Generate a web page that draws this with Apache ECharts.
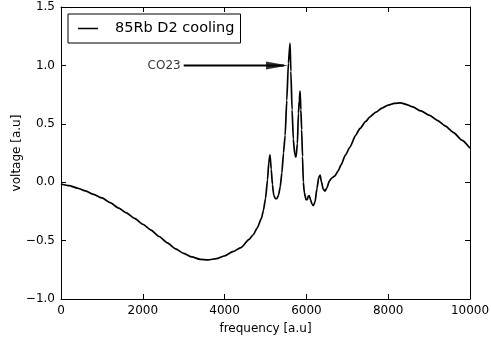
<!DOCTYPE html>
<html>
<head>
<meta charset="utf-8">
<script src="https://cdn.jsdelivr.net/npm/echarts@6/dist/echarts.min.js"></script>
<style>html,body{margin:0;padding:0;background:#fff}#c{width:491px;height:344px}</style>
</head>
<body>
<div id="c"></div>
<script>
var seriesName = '85Rb D2 cooling';
var freq = [0,200,400,600,800,1000,1200,1400,1600,1800,2000,2200,2400,2600,2800,3000,3200,3400,3600,3800,4000,4200,4400,4600,4700,4800,4900,4950,5000,5050,5080,5110,5140,5170,5200,5240,5280,5320,5360,5400,5440,5480,5520,5560,5600,5620,5650,5680,5715,5745,5780,5805,5827,5845,5865,5884,5905,5925,5950,5990,6020,6045,6070,6100,6140,6170,6210,6260,6300,6335,6370,6410,6455,6500,6560,6620,6700,6780,6850,6950,7066,7200,7311,7450,7555,7700,7850,8000,8150,8300,8450,8600,8800,9000,9200,9400,9600,9800,10000];
var voltage = [-0.015,-0.03,-0.05,-0.075,-0.105,-0.135,-0.175,-0.22,-0.262,-0.31,-0.36,-0.41,-0.465,-0.52,-0.57,-0.61,-0.64,-0.66,-0.665,-0.655,-0.63,-0.595,-0.56,-0.49,-0.45,-0.39,-0.31,-0.24,-0.14,0.02,0.17,0.235,0.11,-0.02,-0.11,-0.14,-0.14,-0.11,-0.04,0.08,0.25,0.40,0.70,1.02,1.19,0.95,0.62,0.37,0.24,0.215,0.33,0.59,0.70,0.78,0.62,0.45,0.22,0.0,-0.09,-0.15,-0.15,-0.12,-0.115,-0.15,-0.19,-0.20,-0.17,-0.05,0.04,0.06,0.0,-0.06,-0.075,-0.05,0.01,0.035,0.055,0.10,0.15,0.23,0.30,0.40,0.46,0.52,0.56,0.60,0.635,0.66,0.675,0.68,0.665,0.645,0.61,0.575,0.53,0.48,0.425,0.36,0.29];
var xTicks = [0,2000,4000,6000,8000,10000];
var yTicks = [-1.0,-0.5,0.0,0.5,1.0,1.5];
var annText = 'CO23';
var arrowStart = [3000, 1.0];
var arrowShaftEnd = [5450, 1.0];
var arrowTip = [5550, 1.0];

var data = freq.map(function(f,i){return [f, voltage[i]];});
var fmtY = function(v){ var s = Math.abs(v).toFixed(1); return (v < -1e-9 ? '\u2212' : '') + s; };
var fmtX = function(v){ return String(v); };
var font = 'DejaVu Sans';
var chart = echarts.init(document.getElementById('c'), null, {renderer:'canvas'});
function axisCommon(){ return {
  axisLine:{show:true, onZero:false, lineStyle:{color:'#000', width:1}},
  axisTick:{show:true, inside:true, length:5, lineStyle:{color:'#000', width:1}},
  splitLine:{show:false}
};}
chart.setOption({
  animation:false,
  backgroundColor:'#fff',
  grid:{left:61, right:21, top:7, bottom:45, containLabel:false, outerBoundsMode:'none'},
  legend:{
    data:[seriesName], left:68, top:14, orient:'vertical', icon:'rect',
    padding:[7,6,7,10], itemWidth:20, itemHeight:1.5,
    borderColor:'#000', borderWidth:1, backgroundColor:'#fff',
    textStyle:{fontFamily:font, fontSize:14.5, color:'#000', padding:[0,0,0,12]}
  },
  xAxis:[
    Object.assign({type:'value', min:xTicks[0], max:xTicks[xTicks.length-1], interval:2000,
      name:'frequency [a.u]', nameLocation:'middle', nameGap:24, nameMoveOverlap:false,
      nameTextStyle:{fontFamily:font, fontSize:12, color:'#000'},
      axisLabel:{fontFamily:font, fontSize:12, color:'#000', margin:6, formatter:fmtX}}, axisCommon()),
    Object.assign({type:'value', position:'top', min:xTicks[0], max:xTicks[xTicks.length-1], interval:2000,
      axisLabel:{show:false}}, axisCommon())
  ],
  yAxis:[
    Object.assign({type:'value', min:yTicks[0], max:yTicks[yTicks.length-1], interval:0.5,
      name:'voltage [a.u]', nameLocation:'middle', nameGap:38, nameMoveOverlap:false,
      nameTextStyle:{fontFamily:font, fontSize:12, color:'#000'},
      axisLabel:{fontFamily:font, fontSize:12, color:'#000', margin:6, formatter:fmtY}}, axisCommon()),
    Object.assign({type:'value', position:'right', min:yTicks[0], max:yTicks[yTicks.length-1], interval:0.5,
      axisLabel:{show:false}}, axisCommon())
  ],
  series:[
    {name:seriesName, type:'line', data:data, showSymbol:false, symbol:'none', smooth:0.2, smoothMonotone:'x',
     lineStyle:{color:'#000', width:1.7}, itemStyle:{color:'#000'}, z:3},
    {name:'arrow', type:'line', data:[arrowStart, arrowShaftEnd], showSymbol:false, symbol:'none',
     lineStyle:{color:'#000', width:2}, z:4},
    {name:'arrowhead', type:'scatter', data:[arrowTip], symbol:'path://M0,0 L22,4 L0,8 Z',
     symbolSize:[22,8], symbolOffset:[-11,0], itemStyle:{color:'#000'}, z:5},
    {name:'annotation', type:'scatter', data:[arrowStart], symbolSize:0,
     label:{show:true, position:'left', distance:3, formatter:annText, fontFamily:font, fontSize:12, color:'#000'}, z:5}
  ]
});
</script>
</body>
</html>
